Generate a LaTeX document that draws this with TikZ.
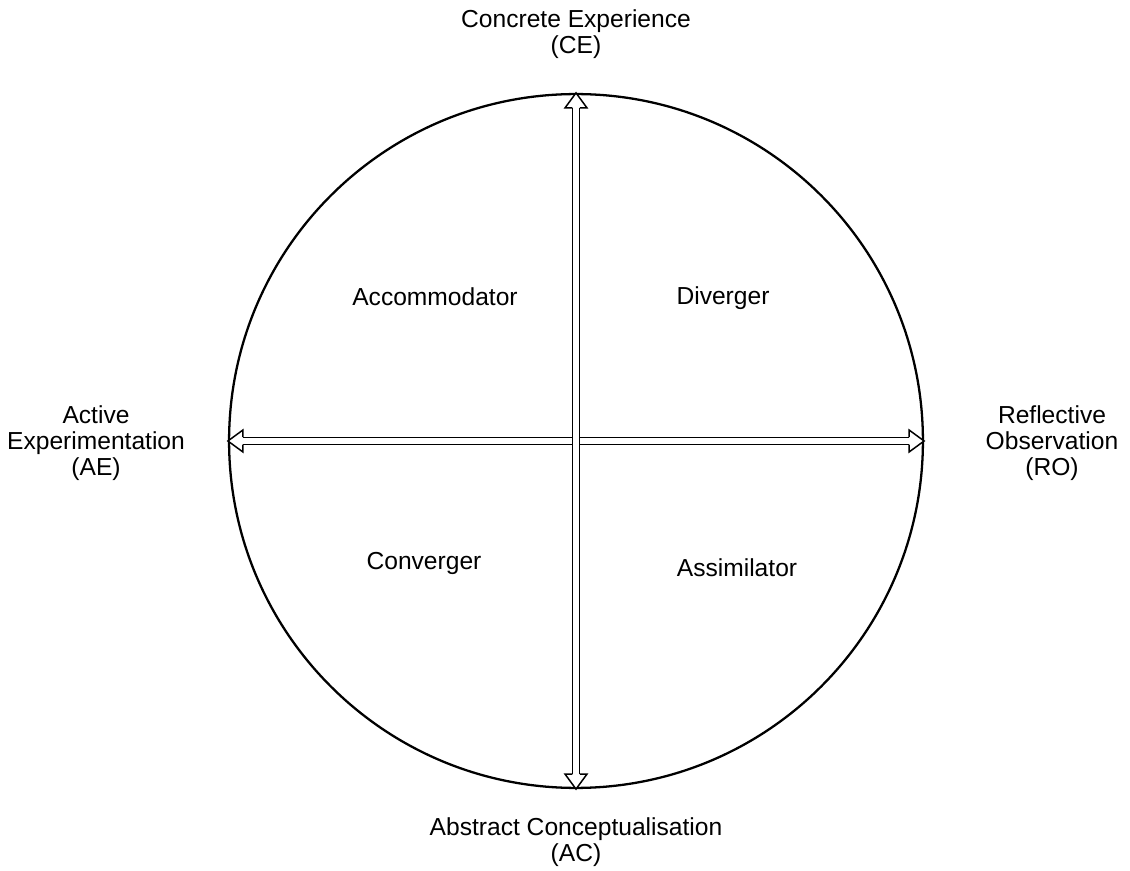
\documentclass[tikz,border=0pt]{standalone}
\usepackage{fontspec}
\setmainfont{Liberation Sans}
\usetikzlibrary{arrows.meta,positioning,calc}

\begin{document}
\begin{tikzpicture}[
    x=0.02cm, y=-0.02cm,
    cycle/.style={circle, draw, line width=1.3pt, minimum size=13.88cm, inner sep=0pt},
    axis/.style={double, double distance=3.4pt, line width=0.85pt, shorten <=0.3cm, shorten >=0.3cm},
    headtip/.style={line width=0.85pt, line join=miter, fill=white},
    pole/.style={align=center, font=\fontsize{14}{14.7}\selectfont},
    lstyle/.style={font=\fontsize{14}{14.7}\selectfont}
]
    \useasboundingbox (0,0) rectangle (1130,871);

    \node[cycle] (kolb) at (576,441) {};

    % the two dimensions
    \draw[axis] (kolb.west) -- (kolb.east);
    \draw[headtip] ($(kolb.west)+(15,-3.75)$) -- ++(0,-7.25) -- (kolb.west) -- ++(15,11) -- ++(0,-7.25);
    \draw[headtip] ($(kolb.east)+(-15,-3.75)$) -- ++(0,-7.25) -- (kolb.east) -- ++(-15,11) -- ++(0,-7.25);
    \draw[axis] (kolb.north) -- (kolb.south);
    \draw[headtip] ($(kolb.north)+(-3.75,15)$) -- ++(-7.25,0) -- (kolb.north) -- ++(11,15) -- ++(-7.25,0);
    \draw[headtip] ($(kolb.south)+(-3.75,-15)$) -- ++(-7.25,0) -- (kolb.south) -- ++(11,-15) -- ++(-7.25,0);

    % poles of the cycle
    \node[pole] (ce) at (576,34) {Concrete Experience\\(CE)};
    \node[pole] (ac) at (576,842) {Abstract Conceptualisation\\(AC)};
    \node[pole] (ae) at (96,443) {Active\\Experimentation\\(AE)};
    \node[pole] (ro) at (1052,443) {Reflective\\Observation\\(RO)};

    % learning styles
    \node[lstyle] (acc) at (435,297) {Accommodator};
    \node[lstyle] (div) at (723,298) {Diverger};
    \node[lstyle] (con) at (424,563) {Converger};
    \node[lstyle] (ass) at (737,568) {Assimilator};
\end{tikzpicture}
\end{document}
